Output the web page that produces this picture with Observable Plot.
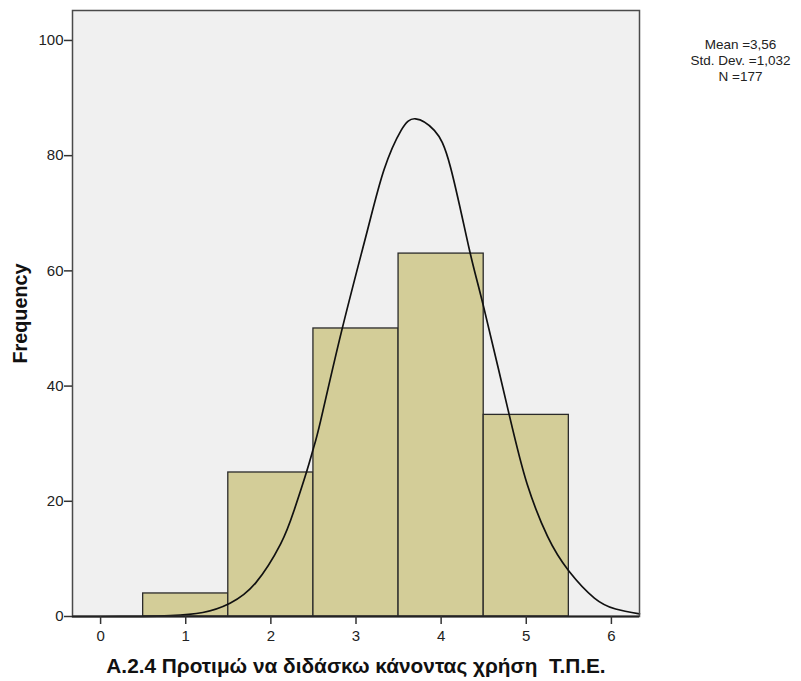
<!DOCTYPE html>
<html>
<head>
<meta charset="utf-8">
<script src="https://cdn.jsdelivr.net/npm/d3@7"></script>
<script src="https://cdn.jsdelivr.net/npm/@observablehq/plot@0.6"></script>
<style>
  html, body { margin: 0; padding: 0; background: #ffffff; }
  #chart svg { display: block; }
</style>
</head>
<body>
<div id="chart"></div>
<script>
// Histogram of responses (scale 1–5)
const responseValues = [1, 2, 3, 4, 5];
const responseCounts = [4, 25, 50, 63, 35];

// Fitted normal curve, sampled along the axis
const curveX = [-0.33, 0.0, 0.5, 0.82, 1.2, 1.52, 1.82, 2.115, 2.27, 2.417, 2.5, 2.585, 2.83, 3.13, 3.33, 3.53, 3.70, 3.92, 4.11, 4.33, 4.50, 4.80, 5.01, 5.25, 5.50, 5.80, 6.05, 6.33];
const curveY = [0, 0.0, 0.03, 0.15, 0.7, 2.3, 5.8, 12.6, 18.3, 25.0, 29.2, 34.0, 49.5, 66.8, 77.6, 84.4, 86.4, 84.4, 78.0, 63.8, 53.7, 35.0, 23.0, 13.9, 7.9, 3.2, 1.3, 0.45];

// Summary statistics and axis text
const xTicks = [0, 1, 2, 3, 4, 5, 6];
const yTicks = [0, 20, 40, 60, 80, 100];
const xTitle = "A.2.4 Προτιμώ να διδάσκω κάνοντας χρήση  Τ.Π.Ε.";
const yTitle = "Frequency";
const statsLines = ["Mean =3,56", "Std. Dev. =1,032", "N =177"];

const bars = responseValues.map((v, i) => ({value: v, count: responseCounts[i]}));
const curve = curveX.map((x, i) => ({x, y: curveY[i]}));

const font = "'Liberation Sans', Arial, Helvetica, sans-serif";

const chart = Plot.plot({
  width: 801,
  height: 681,
  marginLeft: 72,
  marginRight: 162,
  marginTop: 10,
  marginBottom: 65,
  style: {fontFamily: font, background: "#ffffff", color: "#222"},
  x: {domain: [-0.33, 6.33], label: null},
  y: {domain: [0, 105.2], label: null},
  marks: [
    Plot.frame({fill: "#f0f0f0", stroke: null}),
    Plot.rectY(bars, {
      x1: d => d.value - 0.5,
      x2: d => d.value + 0.5,
      y: "count",
      fill: "#d3cd98",
      stroke: "#2a2a2a",
      strokeWidth: 1.3
    }),
    Plot.line(curve, {x: "x", y: "y", curve: "natural", stroke: "#111", strokeWidth: 1.7}),
    Plot.frame({stroke: "#4a4a4a", strokeWidth: 1.5}),
    Plot.ruleY([0], {stroke: "#222", strokeWidth: 2}),
    Plot.axisX({ticks: xTicks, tickFormat: d3.format("d"), tickSize: 8, tickPadding: 6, fontSize: 15, stroke: "#333", strokeWidth: 1.5}),
    Plot.axisY({ticks: yTicks, tickFormat: d3.format("d"), tickSize: 8, tickPadding: 1, fontSize: 15, stroke: "#333", strokeWidth: 1.5}),
    Plot.text([xTitle], {
      frameAnchor: "bottom", dy: 50, fontSize: 20.8, fontWeight: "bold", fill: "#111", lineAnchor: "middle"
    }),
    Plot.text([yTitle], {
      frameAnchor: "left", dx: -52, rotate: -90, textAnchor: "middle", lineAnchor: "middle",
      fontSize: 19.8, fontWeight: "bold", fill: "#111"
    }),
    Plot.text([statsLines.join("\n")], {
      frameAnchor: "top-right", dx: 101, dy: 49, textAnchor: "middle", lineAnchor: "middle",
      lineHeight: 1.18, fontSize: 13.5, fill: "#222"
    })
  ]
});

document.getElementById("chart").append(chart);
</script>
</body>
</html>
